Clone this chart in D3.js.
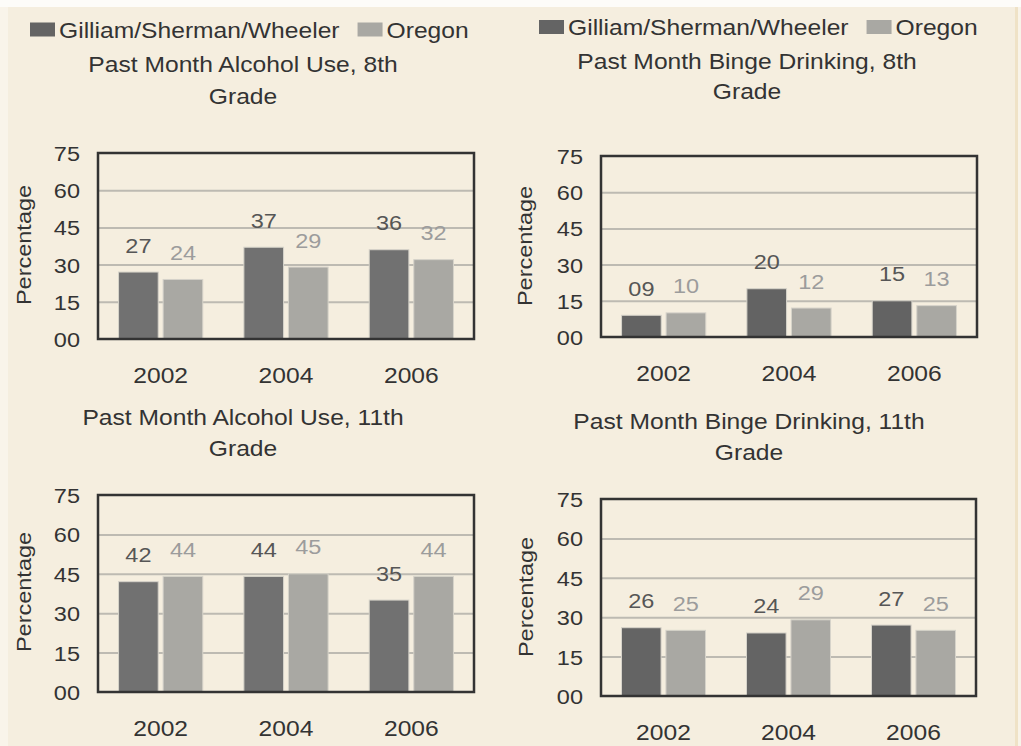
<!DOCTYPE html>
<html>
<head>
<meta charset="utf-8">
<script src="https://cdn.jsdelivr.net/npm/d3@7"></script>
<style>
  body { margin: 0; background: #ffffff; }
  text { font-family: "Liberation Sans", Arial, sans-serif; }
</style>
</head>
<body>
<div id="chart"></div>
<script>
// DATA
const years = ["2002", "2004", "2006"];
const seriesNames = ["Gilliam/Sherman/Wheeler", "Oregon"];
const alc8Gsw = [27, 37, 36];
const alc8Or = [24, 29, 32];
const binge8Gsw = [9, 20, 15];
const binge8Or = [10, 12, 13];
const alc11Gsw = [42, 44, 35];
const alc11Or = [44, 45, 44];
const binge11Gsw = [26, 24, 27];
const binge11Or = [25, 29, 25];
const yTicks = [0, 15, 30, 45, 60, 75];

// text in the picture is a bit wider than normal
const SX = 1.12;
const W = 1021, H = 746;

const panels = [
    {title: ["Past Month Alcohol Use, 8th", "Grade"], gsw: alc8Gsw, or: alc8Or,
     x: 98, y: 153, w: 376, h: 186, tx: 243, ty: [71.5, 104],
     legend: {x: 30, y: 37.5}, dark: "#717171", ytx: 31, yty: 245},
    {title: ["Past Month Binge Drinking, 8th", "Grade"], gsw: binge8Gsw, or: binge8Or,
     x: 601, y: 156, w: 376, h: 181, tx: 747, ty: [68.5, 99],
     legend: {x: 539, y: 35}, dark: "#636363", ytx: 532, yty: 246},
    {title: ["Past Month Alcohol Use, 11th", "Grade"], gsw: alc11Gsw, or: alc11Or,
     x: 98, y: 495, w: 376, h: 197, tx: 243, ty: [425, 456],
     legend: null, dark: "#717171", ytx: 31, yty: 592},
    {title: ["Past Month Binge Drinking, 11th", "Grade"], gsw: binge11Gsw, or: binge11Or,
     x: 601, y: 499, w: 375, h: 197, tx: 749, ty: [429, 460],
     legend: null, dark: "#646464", ytx: 533, yty: 597}
];

const lightColor = "#a9a8a3";

const svg = d3.select("#chart").append("svg")
    .attr("width", W)
    .attr("height", H);

// BACKGROUND
svg.append("rect").attr("width", W).attr("height", H).attr("fill", "#f5eedf");
svg.append("rect").attr("width", W).attr("height", 7).attr("fill", "#fdfcf9");
svg.append("rect").attr("y", 7).attr("width", 8).attr("height", H).attr("fill", "#f9f4ea");
svg.append("rect").attr("x", 1015).attr("y", 7).attr("width", 3).attr("height", H).attr("fill", "#efe2c6");
svg.append("rect").attr("x", 1018).attr("y", 7).attr("width", 3).attr("height", H).attr("fill", "#f8f3e8");

function addText(g, x, y, str, size, color, anchor, rot) {
    return g.append("text")
        .attr("transform", `translate(${x},${y})` + (rot ? " rotate(-90)" : "") + ` scale(${SX},1)`)
        .attr("text-anchor", anchor || "middle")
        .attr("font-size", size)
        .attr("fill", color)
        .text(str);
}

const fmt = d3.format("02d");

panels.forEach(function(p){
    const g = svg.append("g");

    let yScale = d3.scaleLinear().domain([0, 75]).range([p.y + p.h, p.y]);
    let x0 = d3.scaleBand().domain(years).range([p.x, p.x + p.w])
                .paddingInner(0.328).paddingOuter(0.164);
    let x1 = d3.scaleBand().domain([0, 1]).range([0, x0.bandwidth()])
                .paddingInner(0.11);

    // gridlines
    let grid = d3.axisLeft(yScale).tickValues([15, 30, 45, 60])
                .tickSize(-p.w).tickFormat("");
    g.append("g")
        .attr("class", "grid")
        .attr("transform", `translate(${p.x},0)`)
        .call(grid)
        .call(s => s.select(".domain").remove())
        .selectAll("line")
        .attr("stroke", "#bdbab2")
        .attr("stroke-width", 2);

    // y axis labels
    let yAxis = d3.axisLeft(yScale).tickValues(yTicks).tickSize(0).tickFormat(fmt);
    g.append("g")
        .attr("class", "axis y-axis")
        .attr("transform", `translate(${p.x},0)`)
        .call(yAxis)
        .call(s => s.select(".domain").remove())
        .selectAll("text")
        .attr("x", 0).attr("dy", "0.36em")
        .attr("transform", `translate(-18,0) scale(${SX},1)`)
        .attr("font-size", 21)
        .attr("font-family", "Liberation Sans, Arial, sans-serif")
        .attr("fill", "#333");

    // x axis labels
    let xAxis = d3.axisBottom(x0).tickSize(0);
    g.append("g")
        .attr("class", "axis x-axis")
        .attr("transform", `translate(0,${p.y + p.h})`)
        .call(xAxis)
        .call(s => s.select(".domain").remove())
        .selectAll("text")
        .attr("y", 0).attr("dy", 0)
        .attr("transform", `translate(0,43.5) scale(${SX},1)`)
        .attr("font-size", 22)
        .attr("font-family", "Liberation Sans, Arial, sans-serif")
        .attr("fill", "#333");

    // bars
    const rows = years.map((yr, i) => ({year: yr, vals: [p.gsw[i], p.or[i]]}));
    const groups = g.selectAll(".yr")
        .data(rows)
        .enter()
        .append("g")
        .attr("transform", d => `translate(${x0(d.year)},0)`);

    groups.selectAll("rect")
        .data(d => d.vals)
        .enter()
        .append("rect")
        .attr("x", (d, i) => x1(i))
        .attr("y", d => yScale(d))
        .attr("width", x1.bandwidth())
        .attr("height", d => yScale(0) - yScale(d))
        .attr("fill", (d, i) => i == 0 ? p.dark : lightColor)
        .attr("stroke", "#d6d3ca")
        .attr("stroke-width", 1);

    groups.each(function(d){
        const gg = d3.select(this);
        d.vals.forEach(function(v, i){
            addText(gg, x1(i) + x1.bandwidth() / 2, yScale(v) - 19.5, fmt(v), 21,
                    i == 0 ? "#565656" : "#9c9c9c");
        });
    });

    // frame
    g.append("rect")
        .attr("x", p.x).attr("y", p.y)
        .attr("width", p.w).attr("height", p.h)
        .attr("fill", "none")
        .attr("stroke", "#333")
        .attr("stroke-width", 2.5);

    // titles
    addText(g, p.tx, p.ty[0], p.title[0], 22, "#333");
    addText(g, p.tx, p.ty[1], p.title[1], 22, "#333");
    addText(g, p.ytx, p.yty, "Percentage", 21, "#333", "middle", true);

    // legend
    if (p.legend){
        let lx = p.legend.x;
        seriesNames.forEach(function(name, i){
            g.append("rect")
                .attr("x", lx).attr("y", p.legend.y - 15)
                .attr("width", 25).attr("height", 14)
                .attr("fill", i == 0 ? "#646464" : lightColor);
            let t = addText(g, lx + 29, p.legend.y, name, 22, "#333", "start");
            lx = lx + 29 + t.node().getComputedTextLength() * SX + 18;
        });
    }
});
</script>
</body>
</html>
